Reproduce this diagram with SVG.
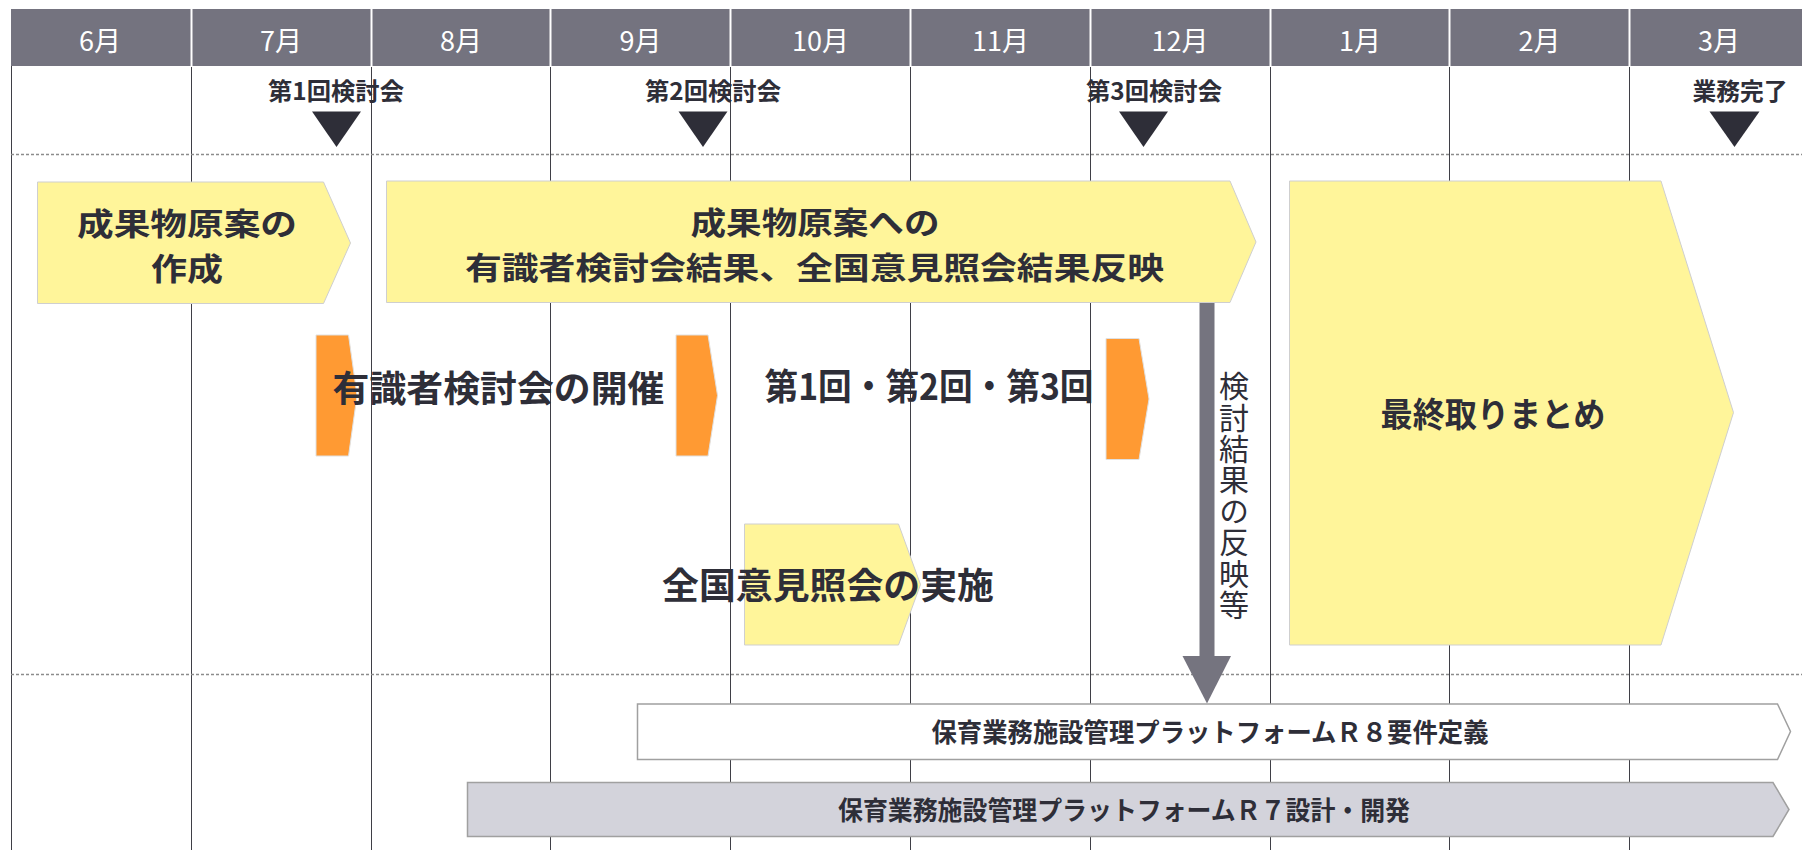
<svg xmlns="http://www.w3.org/2000/svg" width="1802" height="850" viewBox="0 0 1802 850">
<defs>
<style>
.hdr{fill:#74737f}
.sep{stroke:#ffffff;stroke-width:2}
.grid{stroke:#3f3f46;stroke-width:1}
.dash{stroke:#8c8c8c;stroke-width:1.3;stroke-dasharray:3 2}
.mon{font-family:"Noto Sans CJK JP","Noto Sans",sans-serif;font-size:27px;fill:#ffffff;text-anchor:middle}
.ms{font-family:"Noto Sans CJK JP","Noto Sans",sans-serif;font-size:24px;font-weight:700;fill:#2e2e38;text-anchor:middle}
.tri{fill:#2e2e38}
.yel{fill:#fff59a;stroke:#cfcfcf;stroke-width:1}
.org{fill:#ff9a33;stroke:#e0e0e0;stroke-width:1}
.big{font-family:"Noto Sans CJK JP","Noto Sans",sans-serif;font-size:36px;font-weight:700;fill:#2e2e38;text-anchor:middle}
.two{font-size:31px}
.arr{fill:#75747f}
.vt{font-family:"Noto Sans CJK JP","Noto Sans",sans-serif;font-size:30px;fill:#2e2e38;writing-mode:vertical-rl;letter-spacing:1.2px}
.wbar{fill:#ffffff;stroke:#a0a0a0;stroke-width:1.5}
.gbar{fill:#d3d3db;stroke:#a0a0a0;stroke-width:1.5}
.bt{font-family:"Noto Sans CJK JP","Noto Sans",sans-serif;font-size:26px;font-weight:700;fill:#2e2e38;text-anchor:middle}
</style>
</defs>
<rect width="1802" height="850" fill="#ffffff"/>

<g id="header">
<rect class="hdr" x="11" y="9" width="1791" height="57"/>
<line class="sep" x1="191.5" y1="9" x2="191.5" y2="66"/>
<line class="sep" x1="371.5" y1="9" x2="371.5" y2="66"/>
<line class="sep" x1="550.5" y1="9" x2="550.5" y2="66"/>
<line class="sep" x1="730.5" y1="9" x2="730.5" y2="66"/>
<line class="sep" x1="910.5" y1="9" x2="910.5" y2="66"/>
<line class="sep" x1="1090.5" y1="9" x2="1090.5" y2="66"/>
<line class="sep" x1="1270.5" y1="9" x2="1270.5" y2="66"/>
<line class="sep" x1="1449.5" y1="9" x2="1449.5" y2="66"/>
<line class="sep" x1="1629.5" y1="9" x2="1629.5" y2="66"/>
<text class="mon" x="100" y="51">6月</text>
<text class="mon" x="281" y="51">7月</text>
<text class="mon" x="461" y="51">8月</text>
<text class="mon" x="640.5" y="51">9月</text>
<text class="mon" x="820.5" y="51">10月</text>
<text class="mon" x="1000.5" y="51">11月</text>
<text class="mon" x="1180" y="51">12月</text>
<text class="mon" x="1360" y="51">1月</text>
<text class="mon" x="1539.5" y="51">2月</text>
<text class="mon" x="1719" y="51">3月</text>
</g>

<g id="grid">
<line class="grid" x1="11.5" y1="66" x2="11.5" y2="850"/>
<line class="grid" x1="191.5" y1="67" x2="191.5" y2="850"/>
<line class="grid" x1="371.5" y1="67" x2="371.5" y2="850"/>
<line class="grid" x1="550.5" y1="67" x2="550.5" y2="850"/>
<line class="grid" x1="730.5" y1="67" x2="730.5" y2="850"/>
<line class="grid" x1="910.5" y1="67" x2="910.5" y2="850"/>
<line class="grid" x1="1090.5" y1="67" x2="1090.5" y2="850"/>
<line class="grid" x1="1270.5" y1="67" x2="1270.5" y2="850"/>
<line class="grid" x1="1449.5" y1="67" x2="1449.5" y2="850"/>
<line class="grid" x1="1629.5" y1="67" x2="1629.5" y2="850"/>
<line class="dash" x1="11" y1="154.5" x2="1802" y2="154.5"/>
<line class="dash" x1="11" y1="674.5" x2="1802" y2="674.5"/>
</g>

<g id="milestones">
<g id="ms1"><text class="ms" x="336" y="100" textLength="136" lengthAdjust="spacingAndGlyphs">第1回検討会</text><polygon class="tri" points="312,111.5 361,111.5 336.5,147"/></g>
<g id="ms2"><text class="ms" x="713" y="100" textLength="136" lengthAdjust="spacingAndGlyphs">第2回検討会</text><polygon class="tri" points="678.5,111.5 727.5,111.5 703,147"/></g>
<g id="ms3"><text class="ms" x="1154" y="100" textLength="136" lengthAdjust="spacingAndGlyphs">第3回検討会</text><polygon class="tri" points="1119,111.5 1168,111.5 1143.5,147"/></g>
<g id="ms4"><text class="ms" x="1740" y="100" textLength="95" lengthAdjust="spacingAndGlyphs">業務完了</text><polygon class="tri" points="1709.5,111.5 1759.5,111.5 1734.5,147"/></g>
</g>

<g id="connectors">
<rect class="arr" x="1199.5" y="302.5" width="15" height="354"/>
<polygon class="arr" points="1182.5,656 1231,656 1207,703.5"/>
<text class="vt" x="1234" y="371">検討結果の反映等</text>
</g>

<g id="node-draft">
<polygon class="yel" points="37.5,182 323.5,182 350.5,243 323.5,303.5 37.5,303.5"/>
<text class="big two"><tspan x="187" y="235" textLength="220" lengthAdjust="spacingAndGlyphs">成果物原案の</tspan><tspan x="187" y="280" textLength="72" lengthAdjust="spacingAndGlyphs">作成</tspan></text>
</g>

<g id="node-reflect">
<polygon class="yel" points="386.5,181 1230,181 1256,242 1230,302.5 386.5,302.5"/>
<text class="big two"><tspan x="815" y="234" textLength="249" lengthAdjust="spacingAndGlyphs">成果物原案への</tspan><tspan x="814.5" y="279" textLength="699" lengthAdjust="spacingAndGlyphs">有識者検討会結果、全国意見照会結果反映</tspan></text>
</g>

<g id="node-final">
<polygon class="yel" points="1289.5,181 1661,181 1733.5,412.5 1661,645 1289.5,645"/>
<text class="big" x="1493" y="426.5" textLength="225" lengthAdjust="spacingAndGlyphs" style="font-size:34px">最終取りまとめ</text>
</g>

<g id="node-hearing">
<polygon class="yel" points="744.5,524 898.5,524 920.5,584.5 898.5,645 744.5,645"/>
<text class="big" x="828" y="598.5" textLength="332" lengthAdjust="spacingAndGlyphs">全国意見照会の実施</text>
</g>

<g id="node-expert">
<polygon class="org" points="316,335 348.5,335 357,395.5 348.5,456 316,456"/>
<polygon class="org" points="676,335 708,335 717.5,395.5 708,456 676,456"/>
<polygon class="org" points="1106,338.5 1139,338.5 1149,399 1139,459.5 1106,459.5"/>
<text class="big" x="498.5" y="401.5" textLength="332" lengthAdjust="spacingAndGlyphs">有識者検討会の開催</text>
<text class="big" x="929" y="400" textLength="329" lengthAdjust="spacingAndGlyphs">第1回・第2回・第3回</text>
</g>

<g id="node-r8">
<polygon class="wbar" points="637.5,704 1777.5,704 1790.5,731.5 1777.5,759.5 637.5,759.5"/>
<text class="bt" x="1210" y="742" textLength="557" lengthAdjust="spacingAndGlyphs">保育業務施設管理プラットフォームＲ８要件定義</text>
</g>

<g id="node-r7">
<polygon class="gbar" points="467.5,782.5 1773,782.5 1789,809.5 1773,836.5 467.5,836.5"/>
<text class="bt" x="1124" y="820" textLength="572" lengthAdjust="spacingAndGlyphs">保育業務施設管理プラットフォームＲ７設計・開発</text>
</g>
</svg>
